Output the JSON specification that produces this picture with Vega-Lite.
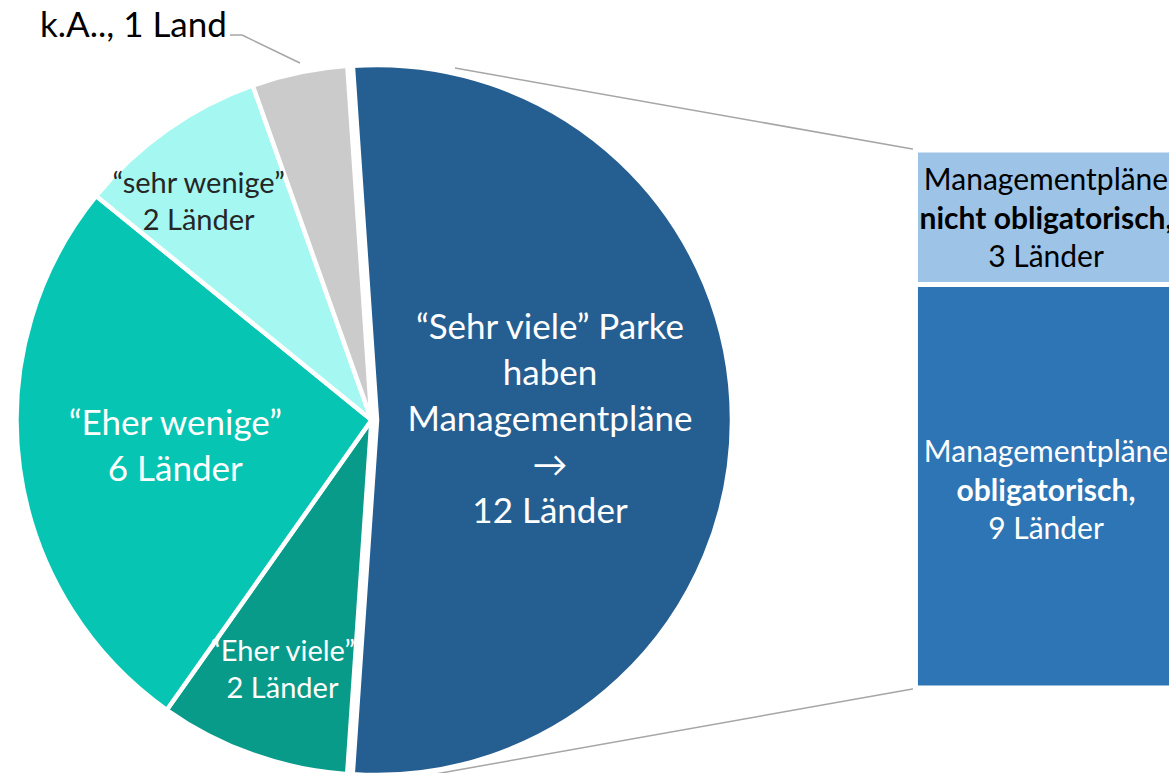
{
  "$schema": "https://vega.github.io/schema/vega-lite/v6.json",
  "width": 1169,
  "height": 773,
  "autosize": {"type": "none"},
  "padding": 0,
  "background": "white",
  "config": {"view": {"stroke": null}, "font": "Lato"},
  "datasets": {
    "pie": [
      {"cat": "Sehr viele", "count": 12, "rank": 1, "label": ["“Sehr viele” Parke", "haben", "Managementpläne", "→", "12 Länder"]},
      {"cat": "Eher viele", "count": 2, "rank": 2, "label": ["“Eher viele”", "2 Länder"]},
      {"cat": "Eher wenige", "count": 6, "rank": 3, "label": ["“Eher wenige”", "6 Länder"]},
      {"cat": "sehr wenige", "count": 2, "rank": 4, "label": ["“sehr wenige”", "2 Länder"]},
      {"cat": "k.A.", "count": 1, "rank": 5, "label": "k.A.., 1 Land"}
    ],
    "bar": [
      {"sub": "obligatorisch", "count": 9, "rank": 1, "first": "Managementpläne", "bold": "obligatorisch,", "last": "9 Länder"},
      {"sub": "nicht obligatorisch", "count": 3, "rank": 2, "first": "Managementpläne", "bold": "nicht obligatorisch,", "last": "3 Länder"}
    ]
  },
  "resolve": {"scale": {"color": "independent"}},
  "layer": [
    {
      "data": {"values": [{}]},
      "mark": {"type": "rule", "color": "#A6A6A6", "strokeWidth": 1.5},
      "encoding": {
        "x": {"datum": 38.92, "type": "quantitative", "scale": {"domain": [0, 100], "nice": false, "zero": false}, "axis": null},
        "x2": {"datum": 78.53},
        "y": {"datum": 13.829, "type": "quantitative", "scale": {"domain": [-1.896, 15.346], "nice": false, "zero": false}, "axis": null},
        "y2": {"datum": 12}
      }
    },
    {
      "data": {"values": [{}]},
      "mark": {"type": "rule", "color": "#A6A6A6", "strokeWidth": 1.5},
      "encoding": {
        "x": {"datum": 36.78, "type": "quantitative", "scale": {"domain": [0, 100], "nice": false, "zero": false}, "axis": null},
        "x2": {"datum": 78.53},
        "y": {"datum": -1.94, "type": "quantitative", "scale": {"domain": [-1.896, 15.346], "nice": false, "zero": false}, "axis": null},
        "y2": {"datum": 0}
      }
    },
    {
      "data": {"values": [{}]},
      "mark": {"type": "rule", "color": "#A6A6A6", "strokeWidth": 1.5},
      "encoding": {
        "x": {"datum": 19.67, "type": "quantitative", "scale": {"domain": [0, 100], "nice": false, "zero": false}, "axis": null},
        "x2": {"datum": 20.7},
        "y": {"datum": 14.565, "type": "quantitative", "scale": {"domain": [-1.896, 15.346], "nice": false, "zero": false}, "axis": null},
        "y2": {"datum": 14.565}
      }
    },
    {
      "data": {"values": [{}]},
      "mark": {"type": "rule", "color": "#A6A6A6", "strokeWidth": 1.5},
      "encoding": {
        "x": {"datum": 20.7, "type": "quantitative", "scale": {"domain": [0, 100], "nice": false, "zero": false}, "axis": null},
        "x2": {"datum": 25.66},
        "y": {"datum": 14.565, "type": "quantitative", "scale": {"domain": [-1.896, 15.346], "nice": false, "zero": false}, "axis": null},
        "y2": {"datum": 13.94}
      }
    },
    {
      "data": {"name": "pie"},
      "mark": {"type": "arc", "radius": 355, "stroke": "white", "strokeWidth": 4.5, "xOffset": {"expr": "datum.cat === 'Sehr viele' ? 5.5 : 0"}},
      "encoding": {
        "theta": {"field": "count", "type": "quantitative", "stack": true, "scale": {"range": [-0.0681, 6.2151]}},
        "order": {"field": "rank", "type": "quantitative"},
        "color": {"field": "cat", "type": "nominal", "legend": null,
          "scale": {"domain": ["Sehr viele", "Eher viele", "Eher wenige", "sehr wenige", "k.A."], "range": ["#255E91", "#089B8A", "#06C5B3", "#A5F8F1", "#CBCBCB"]}},
        "x": {"datum": 31.78, "type": "quantitative", "scale": {"domain": [0, 100], "nice": false, "zero": false}, "axis": null},
        "y": {"datum": 5.978, "type": "quantitative", "scale": {"domain": [-1.896, 15.346], "nice": false, "zero": false}, "axis": null}
      }
    },
    {
      "data": {"name": "pie"},
      "mark": {"type": "text", "align": "center", "baseline": "middle",
        "radius": {"expr": "datum.cat === 'Sehr viele' ? 178.5 : datum.cat === 'Eher viele' ? 265.5 : datum.cat === 'Eher wenige' ? 198 : 279"},
        "fontSize": {"expr": "datum.cat === 'Sehr viele' || datum.cat === 'Eher wenige' ? 35 : 29"},
        "lineHeight": {"expr": "datum.cat === 'Sehr viele' || datum.cat === 'Eher wenige' ? 46 : 37"},
        "fill": {"expr": "datum.cat === 'sehr wenige' ? '#262626' : '#FFFFFF'"},
        "dx": {"expr": "datum.cat === 'sehr wenige' ? -12 : 0"},
        "dy": {"expr": "datum.cat === 'Sehr viele' ? -92 : datum.cat === 'Eher wenige' ? -23 : datum.cat === 'sehr wenige' ? -8.5 : -18.5"}
      },
      "encoding": {
        "theta": {"field": "count", "type": "quantitative", "stack": true, "scale": {"range": [-0.0681, 6.2151]}},
        "order": {"field": "rank", "type": "quantitative"},
        "text": {"condition": {"test": "datum.cat === 'k.A.'", "value": ""}, "field": "label"},
        "x": {"datum": 31.78, "type": "quantitative", "scale": {"domain": [0, 100], "nice": false, "zero": false}, "axis": null},
        "y": {"datum": 5.978, "type": "quantitative", "scale": {"domain": [-1.896, 15.346], "nice": false, "zero": false}, "axis": null}
      }
    },
    {
      "data": {"name": "pie"},
      "transform": [{"filter": "datum.cat === 'k.A.'"}],
      "mark": {"type": "text", "align": "left", "baseline": "middle", "fontSize": 35, "fill": "#000000"},
      "encoding": {
        "text": {"field": "label"},
        "x": {"datum": 3.42, "type": "quantitative", "scale": {"domain": [0, 100], "nice": false, "zero": false}, "axis": null},
        "y": {"datum": 14.76, "type": "quantitative", "scale": {"domain": [-1.896, 15.346], "nice": false, "zero": false}, "axis": null}
      }
    },
    {
      "data": {"name": "bar"},
      "transform": [{"stack": "count", "groupby": [], "sort": [{"field": "rank", "order": "ascending"}], "as": ["c0", "c1"]}],
      "mark": {"type": "rect", "stroke": "white", "strokeWidth": 5},
      "encoding": {
        "x": {"datum": 78.31, "type": "quantitative", "scale": {"domain": [0, 100], "nice": false, "zero": false}, "axis": null},
        "x2": {"datum": 100.6},
        "y": {"field": "c1", "type": "quantitative", "scale": {"domain": [-1.896, 15.346], "nice": false, "zero": false}, "axis": null},
        "y2": {"field": "c0"},
        "color": {"field": "sub", "type": "nominal", "legend": null,
          "scale": {"domain": ["nicht obligatorisch", "obligatorisch"], "range": ["#9DC3E6", "#2E75B6"]}}
      }
    },
    {
      "data": {"name": "bar"},
      "transform": [{"filter": "datum.sub === 'nicht obligatorisch'"}],
      "mark": {"type": "text", "align": "center", "baseline": "middle", "fontSize": 30, "dy": -39, "fill": "#000000"},
      "encoding": {
        "text": {"field": "first"},
        "x": {"datum": 89.48, "type": "quantitative", "scale": {"domain": [0, 100], "nice": false, "zero": false}, "axis": null},
        "y": {"datum": 10.44, "type": "quantitative", "scale": {"domain": [-1.896, 15.346], "nice": false, "zero": false}, "axis": null}
      }
    },
    {
      "data": {"name": "bar"},
      "transform": [{"filter": "datum.sub === 'nicht obligatorisch'"}],
      "mark": {"type": "text", "align": "center", "baseline": "middle", "fontSize": 30, "fontWeight": "bold", "fill": "#000000"},
      "encoding": {
        "text": {"field": "bold"},
        "x": {"datum": 89.48, "type": "quantitative", "scale": {"domain": [0, 100], "nice": false, "zero": false}, "axis": null},
        "y": {"datum": 10.44, "type": "quantitative", "scale": {"domain": [-1.896, 15.346], "nice": false, "zero": false}, "axis": null}
      }
    },
    {
      "data": {"name": "bar"},
      "transform": [{"filter": "datum.sub === 'nicht obligatorisch'"}],
      "mark": {"type": "text", "align": "center", "baseline": "middle", "fontSize": 30, "dy": 38, "fill": "#000000"},
      "encoding": {
        "text": {"field": "last"},
        "x": {"datum": 89.48, "type": "quantitative", "scale": {"domain": [0, 100], "nice": false, "zero": false}, "axis": null},
        "y": {"datum": 10.44, "type": "quantitative", "scale": {"domain": [-1.896, 15.346], "nice": false, "zero": false}, "axis": null}
      }
    },
    {
      "data": {"name": "bar"},
      "transform": [{"filter": "datum.sub === 'obligatorisch'"}],
      "mark": {"type": "text", "align": "center", "baseline": "middle", "fontSize": 30, "dy": -39, "fill": "#FFFFFF"},
      "encoding": {
        "text": {"field": "first"},
        "x": {"datum": 89.48, "type": "quantitative", "scale": {"domain": [0, 100], "nice": false, "zero": false}, "axis": null},
        "y": {"datum": 4.38, "type": "quantitative", "scale": {"domain": [-1.896, 15.346], "nice": false, "zero": false}, "axis": null}
      }
    },
    {
      "data": {"name": "bar"},
      "transform": [{"filter": "datum.sub === 'obligatorisch'"}],
      "mark": {"type": "text", "align": "center", "baseline": "middle", "fontSize": 30, "fontWeight": "bold", "fill": "#FFFFFF"},
      "encoding": {
        "text": {"field": "bold"},
        "x": {"datum": 89.48, "type": "quantitative", "scale": {"domain": [0, 100], "nice": false, "zero": false}, "axis": null},
        "y": {"datum": 4.38, "type": "quantitative", "scale": {"domain": [-1.896, 15.346], "nice": false, "zero": false}, "axis": null}
      }
    },
    {
      "data": {"name": "bar"},
      "transform": [{"filter": "datum.sub === 'obligatorisch'"}],
      "mark": {"type": "text", "align": "center", "baseline": "middle", "fontSize": 30, "dy": 38, "fill": "#FFFFFF"},
      "encoding": {
        "text": {"field": "last"},
        "x": {"datum": 89.48, "type": "quantitative", "scale": {"domain": [0, 100], "nice": false, "zero": false}, "axis": null},
        "y": {"datum": 4.38, "type": "quantitative", "scale": {"domain": [-1.896, 15.346], "nice": false, "zero": false}, "axis": null}
      }
    }
  ]
}
